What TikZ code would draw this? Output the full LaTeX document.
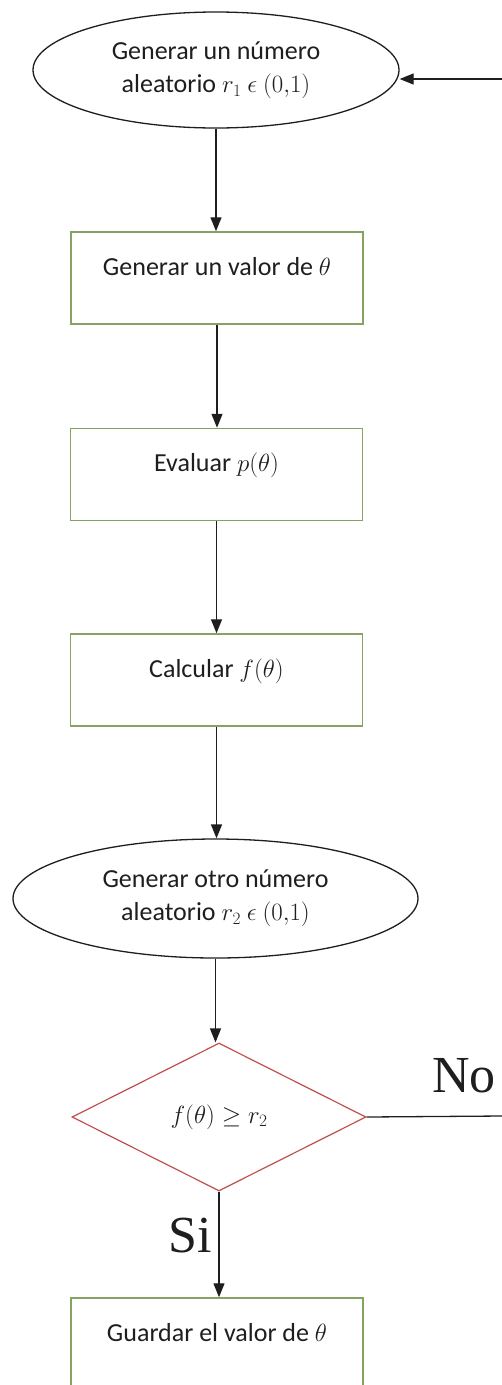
\documentclass[tikz,border=0pt]{standalone}
\usepackage{fontspec}
\setmainfont{Carlito}
\newfontfamily\labelserif{Liberation Serif}
\usetikzlibrary{shapes.geometric,arrows.meta}
\definecolor{boxgreen}{RGB}{134,163,98}
\definecolor{testred}{RGB}{192,80,77}
\definecolor{ink}{RGB}{30,30,30}

\begin{document}
\begin{tikzpicture}[x=1pt,y=-1pt,
  every node/.style={text=ink},
  font=\fontsize{26}{33}\selectfont,
  oval/.style={ellipse,draw=ink,line width=1.3pt,inner sep=0pt,align=center},
  stepbox/.style={rectangle,draw=boxgreen,line width=1.5pt,minimum width=292pt,
    minimum height=92pt,inner sep=0pt,text height=43pt,text depth=49pt},
  test/.style={diamond,draw=testred,line width=1.2pt,minimum width=294pt,
    minimum height=148pt,inner sep=0pt},
  flow/.style={draw=ink,line width=1.3pt,-{Triangle[length=14pt,width=11pt]}},
  plainline/.style={draw=ink,line width=1.3pt},
  branch/.style={font=\labelserif\fontsize{52}{52}\selectfont,inner sep=0pt}
]
\useasboundingbox (0,0) rectangle (502,1385);

% process steps
\node[oval,minimum width=366pt,minimum height=116pt] (gen1) at (216,70)
  {Generar un número\\aleatorio $r_1$ $\epsilon$ $(0{,}1)$};
\node[stepbox] (theta) at (217,278) {Generar un valor de $\theta$};
\node[stepbox] (evalp) at (216.5,474.5) {Evaluar $p(\theta)$};
\node[stepbox] (calcf) at (216.5,680) {Calcular $f(\theta)$};
\node[oval,minimum width=405pt,minimum height=119pt] (gen2) at (215.5,898.5)
  {Generar otro número\\aleatorio $r_2$ $\epsilon$ $(0{,}1)$};
\node[test] (cmp) at (219,1117) {$f(\theta)\geq r_2$};
\node[stepbox] (keep) at (217,1344) {Guardar el valor de $\theta$};

% branch labels
\node[branch,anchor=base west] (nolab) at (432,1092) {No};
\node[branch,anchor=base east] (silab) at (212,1252) {Si};

% loose ends at the right margin
\coordinate (noend) at (502,1116);
\coordinate (back) at (502,79);

% connectors
\draw[flow] (gen1.south) -- (gen1.south |- theta.north);
\draw[flow] (theta.south) -- (theta.south |- evalp.north);
\draw[flow] (evalp.south) -- (evalp.south |- calcf.north);
\draw[flow] (calcf.south) -- (calcf.south |- gen2.north);
\draw[flow] (gen2.south) -- (gen2.south |- cmp.north);
\draw[flow] (cmp.south) -- (cmp.south |- keep.north);
\draw[plainline] (cmp.east) -- (noend);
\draw[flow] (back) -- (back -| gen1.east);
\end{tikzpicture}
\end{document}
